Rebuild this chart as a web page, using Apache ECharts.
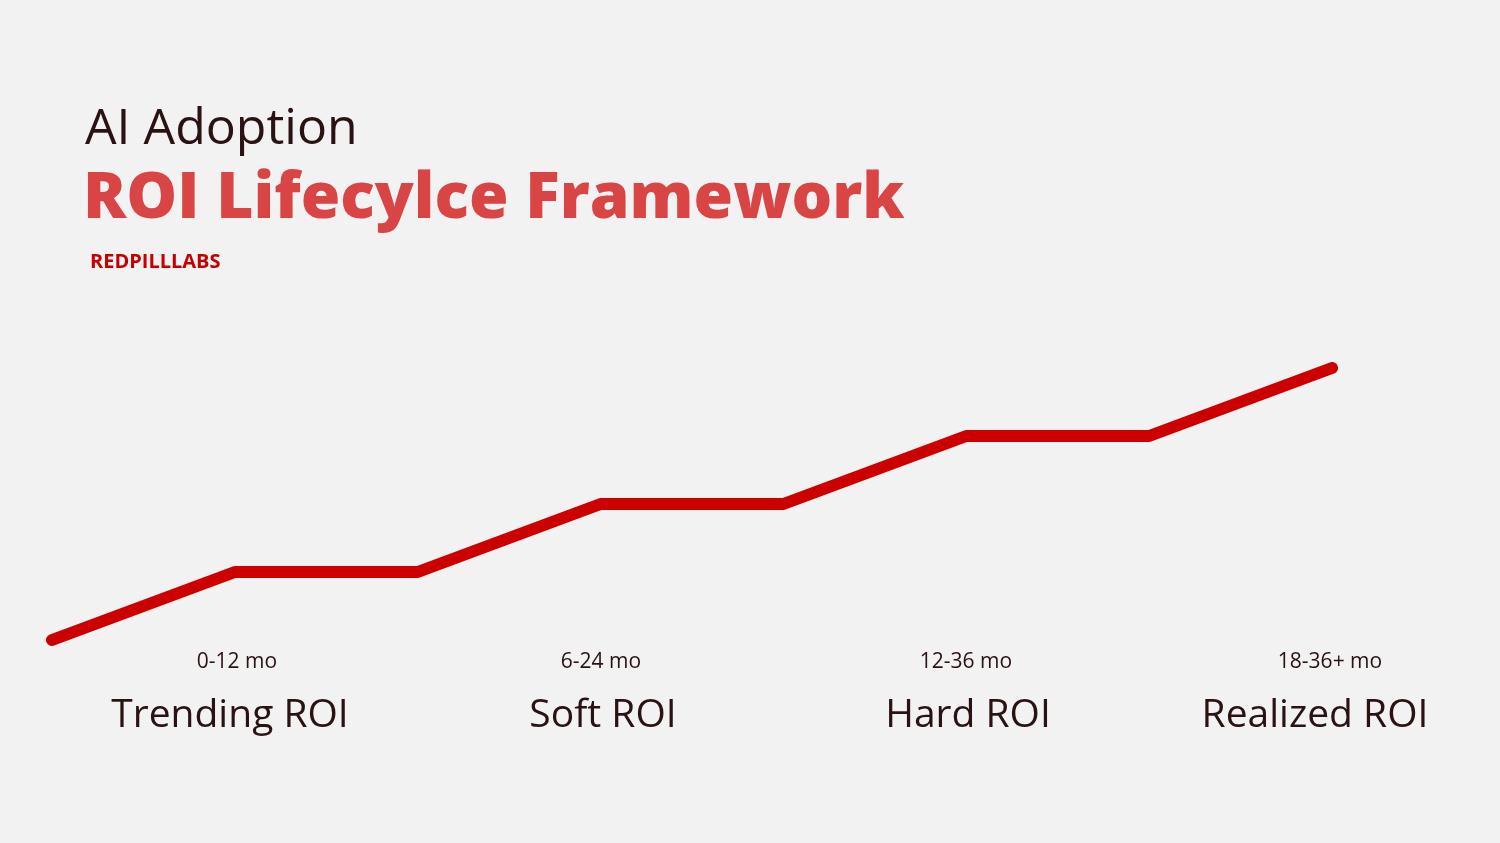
<!DOCTYPE html>
<html><head><meta charset="utf-8">
<script src="https://cdn.jsdelivr.net/npm/echarts@6/dist/echarts.min.js"></script>
<style>html,body{margin:0;padding:0;background:#f2f2f2}#c{width:1500px;height:843px}</style>
</head><body><div id="c"></div>
<script>
const steps = ['0','1','2','3','4','5','6','7'];
const roiLevel = [0, 1, 1, 2, 2, 3, 3, 4];
const periods = ['0-12 mo', '6-24 mo', '12-36 mo', '18-36+ mo'];
const stages = ['Trending ROI', 'Soft ROI', 'Hard ROI', 'Realized ROI'];
const periodX = [237, 601, 966, 1330];
const stageX = [230, 603, 968, 1315];
const chart = echarts.init(document.getElementById('c'));
const graphics = [
  {type:'text', left:85, top:105, style:{text:'AI Adoption', font:'400 50px "Open Sans"', fill:'#2a1212'}},
  {type:'text', left:83, top:168, style:{text:'ROI Lifecylce Framework', font:'800 64px "Open Sans"', fill:'#d94545'}},
  {type:'text', left:90, top:252, style:{text:'REDPILLLABS', font:'700 20px "Open Sans"', fill:'#c40000', letterSpacing:2}}
];
periods.forEach((p,i)=>graphics.push({type:'text', x:periodX[i], y:662, style:{text:p, font:'400 21px "Open Sans"', fill:'#2a1212', align:'center', verticalAlign:'middle'}}));
stages.forEach((s,i)=>graphics.push({type:'text', x:stageX[i], y:716, style:{text:s, font:'400 39px "Open Sans"', fill:'#2a1212', align:'center', verticalAlign:'middle'}}));
chart.setOption({
  backgroundColor:'#f2f2f2',
  animation:false,
  grid:{left:52, right:168, top:368, bottom:203},
  xAxis:{type:'category', data:steps, boundaryGap:false, show:false},
  yAxis:{type:'value', min:0, max:4, show:false},
  series:[{type:'line', data:roiLevel, symbol:'none', lineStyle:{color:'#cc0000', width:12, cap:'round', join:'round'}}],
  graphic:graphics
});
</script></body></html>
